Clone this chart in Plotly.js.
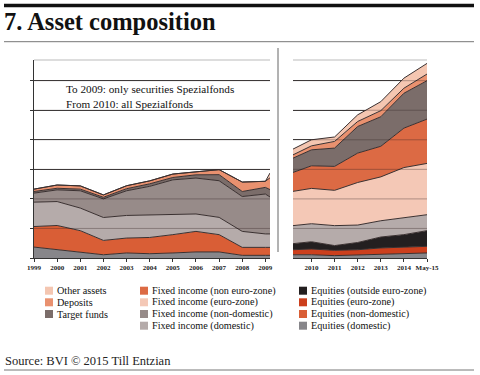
<!DOCTYPE html>
<html>
<head>
<meta charset="utf-8">
<script src="https://cdn.plot.ly/plotly-3.0.1.min.js"></script>
<style>html,body{margin:0;padding:0;background:#fff;}#chart{width:480px;height:375px;}</style>
</head>
<body>
<div id="chart"></div>
<script>
// ---- data (values in € bn) ----
const leftYears = [1999, 2000, 2001, 2002, 2003, 2004, 2005, 2006, 2007, 2008, 2009, 2009.2];
const leftTickVals = [1999, 2000, 2001, 2002, 2003, 2004, 2005, 2006, 2007, 2008, 2009];
const leftTickText = ["1999", "2000", "2001", "2002", "2003", "2004", "2005", "2006", "2007", "2008", "2009"];

const eqDomL    = [74, 56, 41, 22, 34, 29, 34, 41, 41, 18, 18, 18];
const eqNonDomL = [139, 164, 144, 97, 101, 110, 124, 139, 117, 54, 54, 54];
const fiDomL    = [165, 162, 153, 155, 153, 153, 135, 118, 117, 108, 91, 91];
const fiNonDomL = [61, 79, 117, 126, 167, 193, 236, 243, 248, 236, 270, 250];
const tfL       = [11, 11, 11, 11, 14, 17, 16, 22, 41, 34, 45, 50];
const depL      = [16, 22, 22, 16, 20, 20, 23, 22, 34, 64, 41, 80];
const otherL    = [0, 0, 0, 0, 0, 0, 0, 0, 0, 0, 0, 32];

const rightYears = [2009.2, 2010, 2011, 2012, 2013, 2014, 2015];
const rightTickVals = [2010, 2011, 2012, 2013, 2014, 2015];
const rightTickText = ["2010", "2011", "2012", "2013", "2014", "May-15"];

const eqDomR     = [22, 22, 16, 20, 27, 29, 34];
const eqEuroR    = [34, 39, 36, 36, 41, 43, 45];
const eqOutR     = [41, 49, 32, 49, 74, 86, 106];
const fiDomR     = [122, 122, 135, 118, 110, 113, 108];
const fiEuroR    = [232, 239, 239, 288, 297, 341, 347];
const fiNonEuroR = [128, 153, 162, 199, 207, 267, 300];
const tfR        = [97, 108, 124, 180, 200, 236, 260];
const depR       = [22, 27, 45, 34, 41, 34, 45];
const otherR     = [39, 41, 30, 45, 61, 68, 72];

const gridVals = [200, 400, 600, 800, 1000, 1200];

// ---- styles ----
const C = {
  other: "#f4c6b1", dep: "#e9916f", tf: "#7b6d6a",
  fiNonEuro: "#dc6a44", fiEuro: "#f4c8b6", fiNonDom: "#978b89", fiDom: "#b5abaa",
  eqOut: "#231f20", eqEuro: "#cc3f1d", eqNonDom: "#d95e36", eqDom: "#87868a"
};
const legendCols = [
  [["Other assets", C.other], ["Deposits", C.dep], ["Target funds", C.tf]],
  [["Fixed income (non euro-zone)", C.fiNonEuro], ["Fixed income (euro-zone)", C.fiEuro],
   ["Fixed income (non-domestic)", C.fiNonDom], ["Fixed income (domestic)", C.fiDom]],
  [["Equities (outside euro-zone)", C.eqOut], ["Equities (euro-zone)", C.eqEuro],
   ["Equities (non-domestic)", C.eqNonDom], ["Equities (domestic)", C.eqDom]]
];

const SERIF = "Liberation Serif, Times New Roman, serif";
const W = 480, H = 375, T = 60, B = 117;
const PH = H - T - B;
const px = x => x / W;
const py = y => (H - B - y) / PH;

function area(x, y, color, xa, ya, grp) {
  return {
    type: "scatter", mode: "lines", x: x, y: y, stackgroup: grp,
    xaxis: xa, yaxis: ya, fillcolor: color,
    line: {color: "#3a3030", width: 1}, hoverinfo: "skip", showlegend: false
  };
}

const traces = [
  area(leftYears, eqDomL, C.eqDom, "x", "y", "L"),
  area(leftYears, eqNonDomL, C.eqNonDom, "x", "y", "L"),
  area(leftYears, fiDomL, C.fiDom, "x", "y", "L"),
  area(leftYears, fiNonDomL, C.fiNonDom, "x", "y", "L"),
  area(leftYears, tfL, C.tf, "x", "y", "L"),
  area(leftYears, depL, C.dep, "x", "y", "L"),
  area(leftYears, otherL, C.other, "x", "y", "L"),
  area(rightYears, eqDomR, C.eqDom, "x2", "y2", "R"),
  area(rightYears, eqEuroR, C.eqEuro, "x2", "y2", "R"),
  area(rightYears, eqOutR, C.eqOut, "x2", "y2", "R"),
  area(rightYears, fiDomR, C.fiDom, "x2", "y2", "R"),
  area(rightYears, fiEuroR, C.fiEuro, "x2", "y2", "R"),
  area(rightYears, fiNonEuroR, C.fiNonEuro, "x2", "y2", "R"),
  area(rightYears, tfR, C.tf, "x2", "y2", "R"),
  area(rightYears, depR, C.dep, "x2", "y2", "R"),
  area(rightYears, otherR, C.other, "x2", "y2", "R")
];

const tickFont = {family: SERIF, size: 7, color: "#222", weight: "bold"};
const yRange = [0, 1340];

const shapes = [];
const annotations = [];
// rules
shapes.push({type: "line", xref: "paper", yref: "paper", x0: px(4), x1: px(474), y0: py(5.5), y1: py(5.5), line: {color: "#111", width: 3.5}});
shapes.push({type: "line", xref: "paper", yref: "paper", x0: px(4), x1: px(474), y0: py(41.7), y1: py(41.7), line: {color: "#777", width: 1}});
shapes.push({type: "line", xref: "paper", yref: "paper", x0: px(4), x1: px(474), y0: py(370), y1: py(370), line: {color: "#777", width: 1}});
// separator
shapes.push({type: "line", xref: "paper", yref: "paper", x0: px(278), x1: px(278), y0: py(48), y1: py(252), line: {color: "#666", width: 1}});
// panel top frames
["x", "x2"].forEach(xa => {
  shapes.push({type: "line", xref: xa + " domain", yref: "paper", x0: 0, x1: 1, y0: 1, y1: 1, line: {color: "#bbb", width: 1}});
});
// gridlines showing through data
[["x", "y"], ["x2", "y2"]].forEach(([xa, ya]) => {
  gridVals.forEach(v => {
    shapes.push({type: "line", layer: "above", xref: xa + " domain", yref: ya, x0: 0, x1: 1, y0: v, y1: v, line: {color: "rgba(50,35,35,0.35)", width: 1}});
  });
});
// legend
const colX = [45, 140, 299];
const rowY = [290.7, 302.3, 314, 325.7];
legendCols.forEach((col, ci) => {
  col.forEach(([name, color], ri) => {
    shapes.push({type: "rect", xref: "paper", yref: "paper", x0: px(colX[ci]), x1: px(colX[ci] + 8), y0: py(rowY[ri] - 4), y1: py(rowY[ri] + 4), fillcolor: color, line: {width: 0}});
    annotations.push({xref: "paper", yref: "paper", x: px(colX[ci] + 9.5), y: py(rowY[ri]), xanchor: "left", yanchor: "middle", showarrow: false, text: name, font: {family: SERIF, size: 10.2, color: "#111"}});
  });
});
// note
annotations.push({xref: "paper", yref: "paper", x: px(64), y: py(96.5), xanchor: "left", yanchor: "middle", align: "left", showarrow: false,
  text: "To 2009: only securities Spezialfonds<br>From 2010: all Spezialfonds", font: {family: SERIF, size: 11.2, color: "#111"}});
// source
annotations.push({xref: "paper", yref: "paper", x: px(3), y: py(361), xanchor: "left", yanchor: "middle", showarrow: false,
  text: "Source: BVI © 2015 Till Entzian", font: {family: SERIF, size: 12.5, color: "#222"}});

const layout = {
  width: W, height: H, margin: {l: 0, r: 0, t: T, b: B, pad: 0},
  paper_bgcolor: "#fff", plot_bgcolor: "rgba(0,0,0,0)", showlegend: false,
  title: {text: "<b>7. Asset composition</b>", x: px(4), xanchor: "left", xref: "paper", y: 1 - 21 / H, yanchor: "middle", yref: "container",
          font: {family: SERIF, size: 24.5, color: "#111"}},
  xaxis: {domain: [px(34), px(270)], range: [1999, 2009.2], tickvals: leftTickVals, ticktext: leftTickText,
          showgrid: false, zeroline: false, showline: true, linecolor: "#333", linewidth: 1,
          ticks: "outside", ticklen: 3, tickcolor: "#333", tickfont: tickFont, anchor: "y"},
  yaxis: {domain: [0, 1], range: yRange, dtick: 200, tick0: 0, showticklabels: false, showgrid: true, gridcolor: "#444", gridwidth: 1,
          zeroline: false, showline: true, linecolor: "#333", linewidth: 1, ticks: "outside", ticklen: 3, tickcolor: "#333", anchor: "x"},
  xaxis2: {domain: [px(293), px(427)], range: [2009.2, 2015], tickvals: rightTickVals, ticktext: rightTickText,
           showgrid: false, zeroline: false, showline: true, linecolor: "#333", linewidth: 1,
           ticks: "outside", ticklen: 3, tickcolor: "#333", tickfont: tickFont, anchor: "y2"},
  yaxis2: {domain: [0, 1], range: yRange, dtick: 200, tick0: 0, showticklabels: false, showgrid: true, gridcolor: "#444", gridwidth: 1,
           zeroline: false, showline: false, ticks: "", anchor: "x2"},
  shapes: shapes, annotations: annotations
};

Plotly.newPlot("chart", traces, layout, {staticPlot: true, displayModeBar: false});
</script>
</body>
</html>
